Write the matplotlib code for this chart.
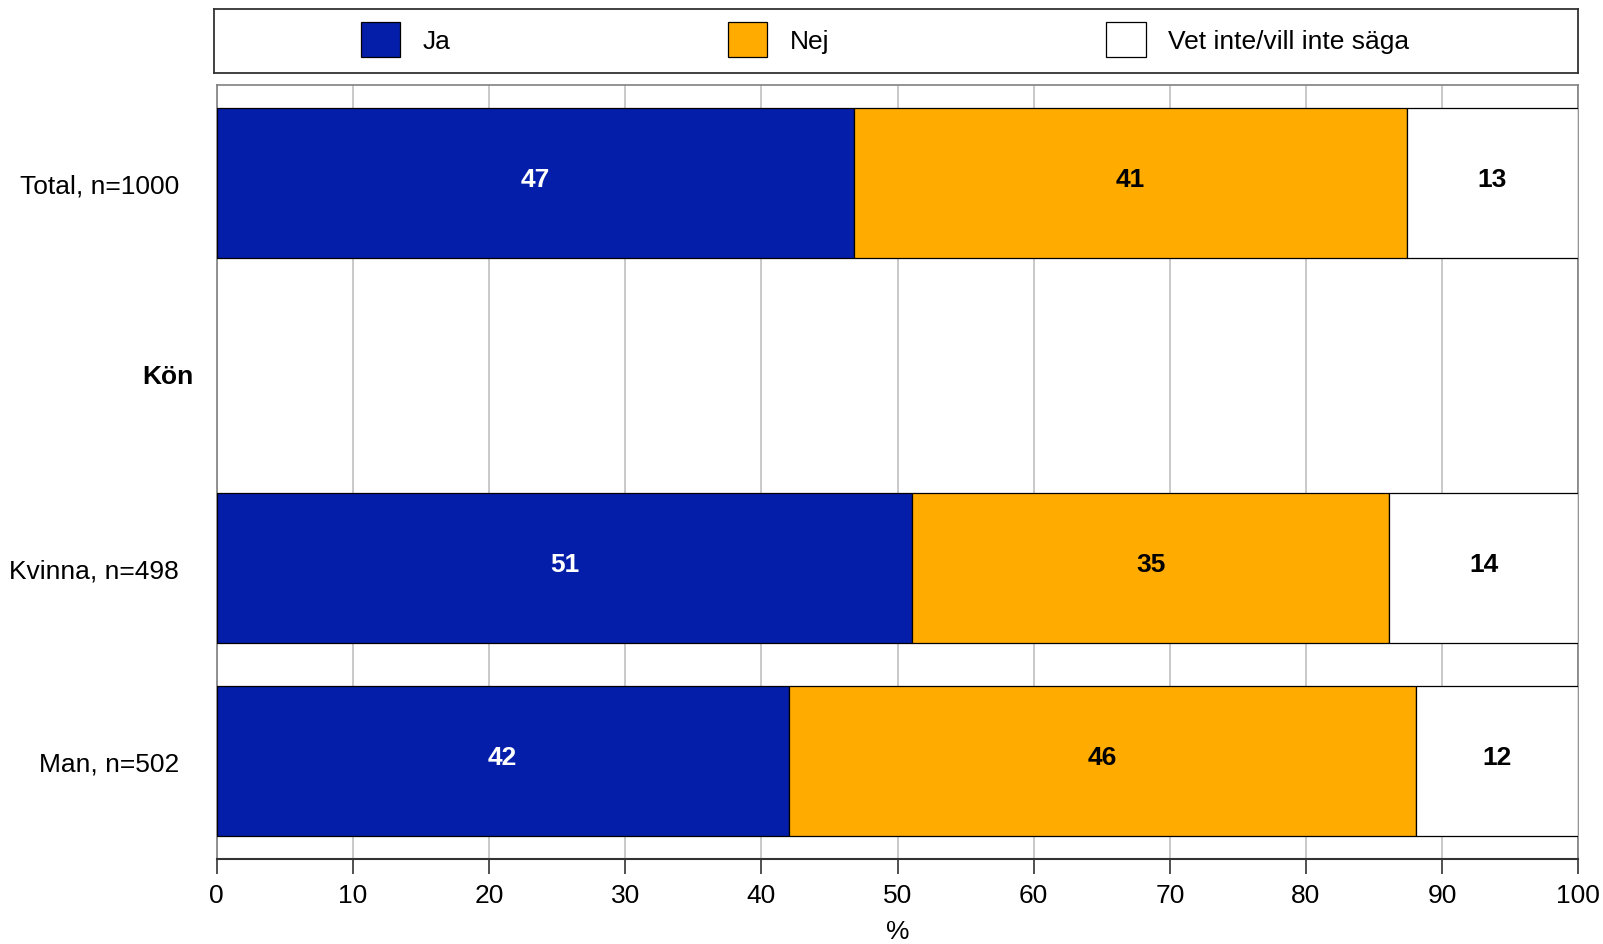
import numpy as np
import matplotlib.pyplot as plt
from matplotlib.patches import Patch
import matplotlib.transforms as mtransforms

plt.rcParams['font.family'] = ['Liberation Sans', 'DejaVu Sans']

# data (percent)
rows = ['Total, n=1000', 'Kvinna, n=498', 'Man, n=502']
row_pos = [0, 2, 3]                 # slot 1 is the "Kön" heading
group_label = 'Kön'
group_pos = 1
ja = [46.8, 51.1, 42.0]
nej = [40.6, 35.0, 46.1]
vet = [12.6, 13.9, 11.9]
ja_lbl = [47, 51, 42]
nej_lbl = [41, 35, 46]
vet_lbl = [13, 14, 12]
series_names = ['Ja', 'Nej', 'Vet inte/vill inte säga']
colors = ['#051EAA', '#FFAB00', '#FFFFFF']

fig = plt.figure(figsize=(16.03, 9.45), dpi=100)
ax = fig.add_axes([0.1352, 0.0899, 0.8494, 0.8194])

bh = 0.78
left = np.zeros(len(rows))
for vals, lbls, col, tcol in [(ja, ja_lbl, colors[0], 'white'),
                               (nej, nej_lbl, colors[1], 'black'),
                               (vet, vet_lbl, colors[2], 'black')]:
    bars = ax.barh(row_pos, vals, left=left, height=bh, color=col,
                   edgecolor='black', linewidth=0.9, zorder=3)
    txts = ax.bar_label(bars, labels=[str(v) for v in lbls], label_type='center',
                        color=tcol, fontsize=19, fontweight='bold')
    for t in txts:
        t.set_y(t.get_position()[1] + 3)   # sits a touch above centre
    left = left + np.array(vals)

ax.set_xlim(0, 100)
ax.set_ylim(3.51, -0.51)
ax.set_xticks(np.arange(0, 101, 10))
ax.tick_params(axis='x', labelsize=19, length=11, width=1.2, color='#333333',
               direction='out', pad=6)
ax.set_yticks(row_pos)
ax.set_yticklabels(rows)
ax.tick_params(axis='y', labelsize=19, length=0, pad=27)
ax.grid(axis='x', color='#c0c0c0', linewidth=1.2, zorder=0)
ax.set_axisbelow(True)

trans = mtransforms.blended_transform_factory(ax.transAxes, ax.transData)
ax.text(-0.017, group_pos, group_label, transform=trans, ha='right', va='center',
        fontsize=19, fontweight='bold')

for s in ['left', 'top', 'right']:
    ax.spines[s].set_color('#808080')
    ax.spines[s].set_linewidth(1.2)
ax.spines['bottom'].set_color('#333333')
ax.spines['bottom'].set_linewidth(1.5)

ax.set_xlabel('%', fontsize=19, labelpad=9)

# legend box across the top
lax = fig.add_axes([0.1332, 0.9221, 0.8514, 0.0671])
lax.set_xticks([])
lax.set_yticks([])
for s in lax.spines.values():
    s.set_color('#333333')
    s.set_linewidth(1.3)
handles = [Patch(facecolor=c, edgecolor='black', linewidth=0.9) for c in colors]
lax.legend(handles, series_names, loc='center', ncol=3, frameon=False,
           fontsize=19, handlelength=1.5, handleheight=1.7, handletextpad=0.85,
           columnspacing=10.5, bbox_to_anchor=(0.492, 0.52))

fig.savefig('out.png', dpi=100)
